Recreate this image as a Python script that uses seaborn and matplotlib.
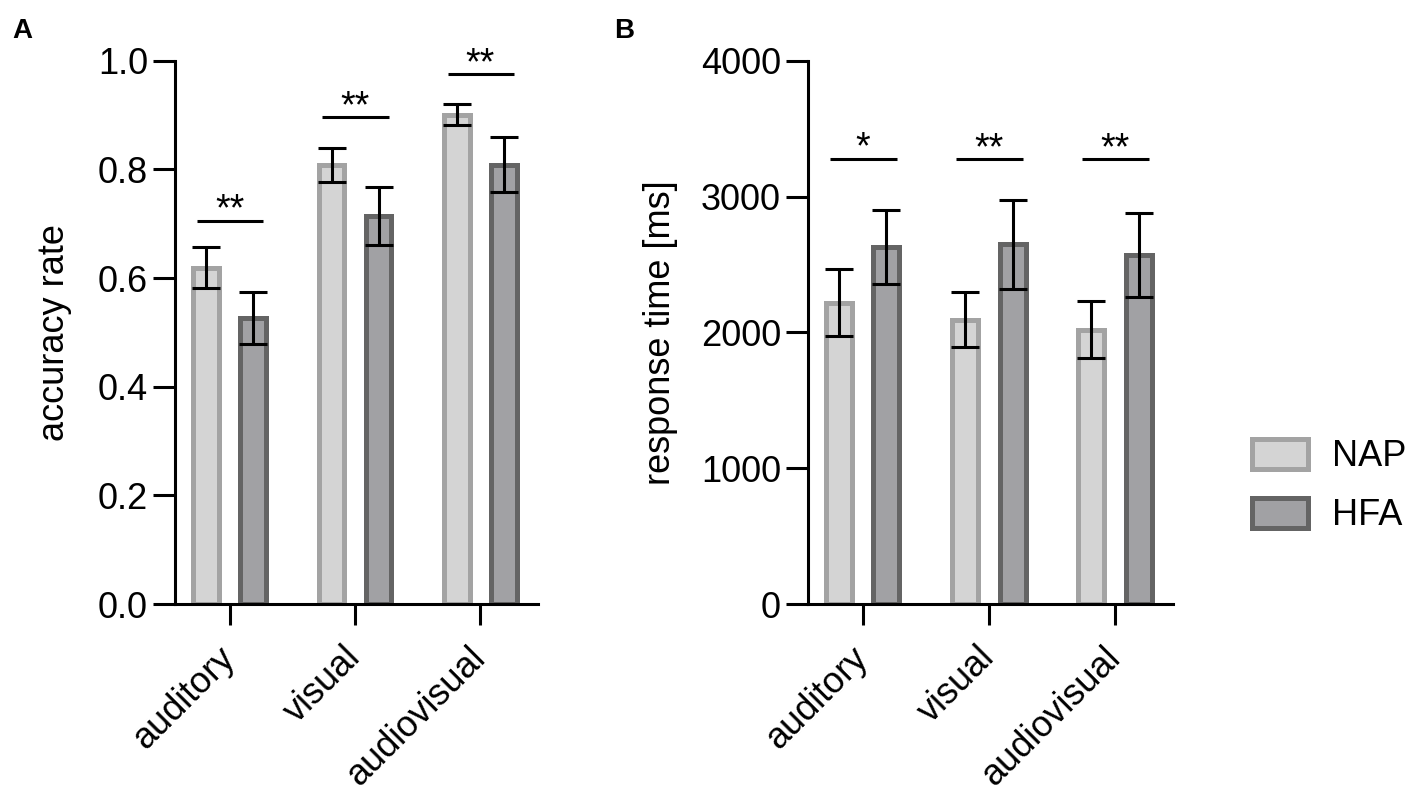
import numpy as np
import pandas as pd
import matplotlib.pyplot as plt
import seaborn as sns
from matplotlib.patches import Patch
from matplotlib.ticker import FormatStrFormatter

# data
conditions = ['auditory', 'visual', 'audiovisual']
groups = ['NAP', 'HFA']

acc_nap = [0.619, 0.808, 0.901]
acc_nap_err = [0.038, 0.032, 0.020]
acc_hfa = [0.526, 0.714, 0.809]
acc_hfa_err = [0.048, 0.054, 0.051]

rt_nap = [2220, 2094, 2020]
rt_nap_err = [245, 200, 210]
rt_hfa = [2628, 2648, 2570]
rt_hfa_err = [275, 325, 307]

acc_sig = ['**', '**', '**']
rt_sig = ['*', '**', '**']
acc_sig_y = [0.706, 0.896, 0.976]
rt_sig_y = [3280, 3278, 3278]

face_colors = {'NAP': '#d4d4d4', 'HFA': '#a1a1a4'}
edge_colors = {'NAP': '#a3a3a3', 'HFA': '#646464'}

sns.set_style('ticks')
plt.rcParams['font.family'] = ['Liberation Sans', 'DejaVu Sans']
plt.rcParams.update({
    'text.color': 'black',
    'axes.labelcolor': 'black',
    'axes.edgecolor': 'black',
    'xtick.color': 'black',
    'ytick.color': 'black',
})

FS = 26
LW = 2.2


def draw_panel(ax, nap, nap_err, hfa, hfa_err, sig, sig_y, ylim, yticks,
               ylabel, fmt, label_x):
    df = pd.DataFrame({
        'condition': conditions * 2,
        'group': ['NAP'] * 3 + ['HFA'] * 3,
        'value': nap + hfa,
    })
    sns.barplot(data=df, x='condition', y='value', hue='group',
                order=conditions, hue_order=groups, palette=face_colors,
                width=0.75, gap=0.45, errorbar=None, legend=False,
                saturation=1, linewidth=3.6, ax=ax)

    bars = sorted(ax.patches, key=lambda p: p.get_x())
    errs = [e for pair in zip(nap_err, hfa_err) for e in pair]
    grp = [g for _ in conditions for g in groups]
    for bar, err, g in zip(bars, errs, grp):
        bar.set_edgecolor(edge_colors[g])
        xc = bar.get_x() + bar.get_width() / 2
        ax.errorbar(xc, bar.get_height(), yerr=err, color='black', lw=LW,
                    capsize=10, capthick=LW, zorder=5)

    # significance brackets
    for i, (s, y) in enumerate(zip(sig, sig_y)):
        ax.plot([i - 0.26, i + 0.27], [y, y], color='black', lw=LW,
                solid_capstyle='butt')
        ax.text(i, y, s, ha='center', va='baseline', fontsize=FS + 1)

    ax.set_xlim(-0.435, 2.46)
    ax.set_ylim(*ylim)
    ax.set_yticks(yticks)
    ax.yaxis.set_major_formatter(FormatStrFormatter(fmt))
    sns.despine(ax=ax)
    for sp in ['left', 'bottom']:
        ax.spines[sp].set_linewidth(LW)
    ax.tick_params(axis='y', length=15.5, width=LW, labelsize=FS, pad=4)
    ax.tick_params(axis='x', length=15, width=LW, labelsize=FS, pad=20)
    ax.set_xticks(range(len(conditions)))
    ax.set_xticklabels(conditions, rotation=45, ha='right', va='center',
                       rotation_mode='anchor')
    ax.set_xlabel('')
    ax.set_ylabel(ylabel, fontsize=FS)
    ax.yaxis.set_label_coords(label_x, 0.5)


fig = plt.figure(figsize=(14.21, 8), dpi=100)
ax_a = fig.add_axes([0.1232, 0.245, 0.2555, 0.679])
ax_b = fig.add_axes([0.5686, 0.245, 0.2569, 0.679])

draw_panel(ax_a, acc_nap, acc_nap_err, acc_hfa, acc_hfa_err, acc_sig,
           acc_sig_y, (0, 1.0), [0, 0.2, 0.4, 0.6, 0.8, 1.0],
           'accuracy rate', '%.1f', -0.284)
draw_panel(ax_b, rt_nap, rt_nap_err, rt_hfa, rt_hfa_err, rt_sig,
           rt_sig_y, (0, 4000), [0, 1000, 2000, 3000, 4000],
           'response time [ms]', '%d', -0.356)

fig.text(0.009, 1 - 38 / 800, 'A', fontsize=20, fontweight='bold')
fig.text(0.432, 1 - 38 / 800, 'B', fontsize=20, fontweight='bold')

handles = [Patch(facecolor=face_colors[g], edgecolor=edge_colors[g],
                 linewidth=3.6, label=g) for g in groups]
fig.legend(handles=handles, loc='center left', bbox_to_anchor=(0.881, 0.3925),
           frameon=False, fontsize=FS, handlelength=1.55, handleheight=0.9,
           handletextpad=0.68, labelspacing=0.65, borderpad=0,
           borderaxespad=0)

fig.savefig('out.png', dpi=100)
